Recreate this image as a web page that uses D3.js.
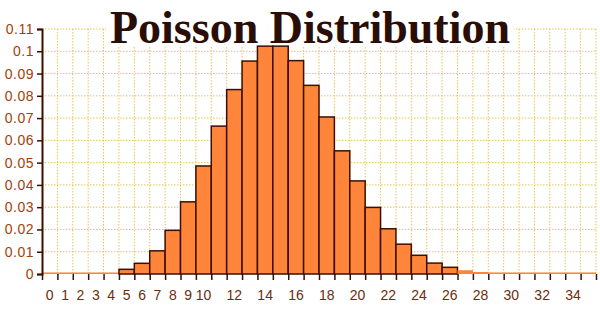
<!DOCTYPE html>
<html>
<head>
<meta charset="utf-8">
<script src="https://cdn.jsdelivr.net/npm/d3@7"></script>
<style>
  body { margin: 0; background: #fff; }
  svg { display: block; }
</style>
</head>
<body>
<script>
// valeurs
const counts = d3.range(0, 36);
const probs = [0.0007, 0.0007, 0.0007, 0.0007, 0.0007, 0.0021, 0.0048, 0.0104, 0.0196, 0.0324,
  0.0485, 0.0664, 0.0828, 0.0956, 0.1023, 0.1023, 0.0958, 0.0847, 0.0705, 0.0553,
  0.0418, 0.0299, 0.0203, 0.0134, 0.0084, 0.0049, 0.0030, 0.0017, 0.0009, 0.0007,
  0.0007, 0.0007, 0.0007, 0.0007, 0.0007, 0.0007];
const yTicks = [0, 0.01, 0.02, 0.03, 0.04, 0.05, 0.06, 0.07, 0.08, 0.09, 0.1, 0.11];
const xLabels = [0, 1, 2, 3, 4, 5, 6, 7, 8, 9, 10, 12, 14, 16, 18, 20, 22, 24, 26, 28, 30, 32, 34];
const title = "Poisson Distribution";

const W = 600, H = 315;
const svg = d3.select("body").append("svg").attr("width", W).attr("height", H);

const x = d3.scaleLinear().domain([0, 36]).range([42, 596]);
const y = d3.scaleLinear().domain([0, 0.11]).range([274, 29]);

const dark = "#3b0f00";
const gridCol = "#e6c653";

// grille
svg.append("g").selectAll("line").data(yTicks.slice(1)).enter().append("line")
  .attr("x1", x(0)).attr("x2", x(36))
  .attr("y1", d => y(d)).attr("y2", d => y(d))
  .attr("stroke", gridCol).attr("stroke-width", 1).attr("stroke-dasharray", "1.5,1.5");
svg.append("g").selectAll("line").data(d3.range(1, 37)).enter().append("line")
  .attr("x1", d => x(d)).attr("x2", d => x(d))
  .attr("y1", y(0.11)).attr("y2", y(0))
  .attr("stroke", gridCol).attr("stroke-width", 1).attr("stroke-dasharray", "1.5,1.5");

// titre avec fond blanc
svg.append("rect").attr("x", 106).attr("y", 0).attr("width", 408).attr("height", 46).attr("fill", "#fff");
svg.append("text").text(title)
  .attr("x", 310).attr("y", 43)
  .attr("text-anchor", "middle")
  .attr("font-family", "Liberation Serif, serif").attr("font-weight", "bold")
  .attr("font-size", 46).attr("fill", "#2a0d04");

// axe x (ticks aux frontières, sans ligne de base)
const xAxis = d3.axisBottom(x).tickValues(d3.range(0, 37)).tickSize(6).tickFormat("");
const gx = svg.append("g").attr("transform", `translate(0,${y(0)})`).call(xAxis);
gx.select(".domain").remove();
gx.selectAll(".tick line").attr("stroke", dark).attr("stroke-width", 1.5);

// barres
svg.append("g").selectAll("rect").data(probs).enter().append("rect")
  .attr("x", (d, i) => x(counts[i]))
  .attr("width", x(1) - x(0))
  .attr("y", d => y(d))
  .attr("height", d => y(0) - y(d))
  .attr("fill", "#ff853a")
  .attr("stroke", d => (y(0) - y(d)) > 4 ? dark : "none")
  .attr("stroke-width", 1.5);

// libellés x
svg.append("g").selectAll("text").data(xLabels).enter().append("text")
  .text(d => d)
  .attr("x", d => x(d + 0.5)).attr("y", 300)
  .attr("text-anchor", "middle")
  .attr("font-family", "Liberation Sans, Arial, sans-serif")
  .attr("font-size", 14).attr("fill", "#6e2c0c");

// axe y
const yAxis = d3.axisLeft(y).tickValues(yTicks).tickSize(5).tickPadding(3).tickFormat(d => d3.format("~g")(d));
const gy = svg.append("g").attr("transform", `translate(${x(0)},0)`).call(yAxis);
gy.select(".domain").attr("stroke", dark).attr("stroke-width", 2);
gy.selectAll(".tick line").attr("stroke", dark).attr("stroke-width", 1.5);
gy.selectAll(".tick text")
  .attr("font-family", "Liberation Sans, Arial, sans-serif")
  .attr("font-size", 14).attr("letter-spacing", 0.5).attr("fill", "#a5400c");
</script>
</body>
</html>
